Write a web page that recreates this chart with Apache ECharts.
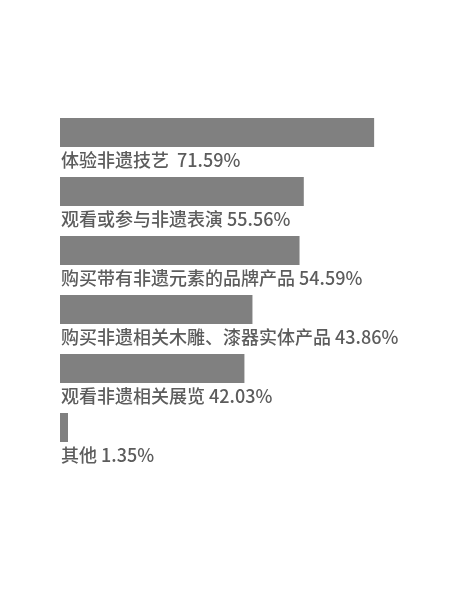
<!DOCTYPE html>
<html>
<head>
<meta charset="utf-8">
<script src="https://cdn.jsdelivr.net/npm/echarts@6/dist/echarts.min.js"></script>
<style>
  html, body { margin: 0; padding: 0; background: #fff; }
  #container { width: 450px; height: 591px; }
</style>
</head>
<body>
<div id="container"></div>
<script>
var categories = ['体验非遗技艺 ', '观看或参与非遗表演', '购买带有非遗元素的品牌产品',
    '购买非遗相关木雕、漆器实体产品', '观看非遗相关展览', '其他'];
var values = [71.59, 55.56, 54.59, 43.86, 42.03, 1.35];

var dom = document.getElementById('container');
var myChart = echarts.init(dom);

var option = {
    animation: false,
    grid: {
        left: 60,
        right: 10,
        top: 103,
        height: 354
    },
    xAxis: {
        type: 'value',
        min: 0,
        max: 86.6,
        show: false
    },
    yAxis: {
        type: 'category',
        data: categories,
        inverse: true,
        show: false
    },
    series: [{
        type: 'bar',
        data: values,
        barWidth: 29,
        barMinHeight: 8,
        itemStyle: {
            color: '#808080'
        },
        label: {
            show: true,
            position: [1, 33],
            color: '#5c5c5c',
            fontSize: 18,
            fontWeight: 500,
            fontFamily: 'Noto Sans CJK SC',
            formatter: function (p) {
                return p.name + ' ' + p.value.toFixed(2) + '%';
            }
        }
    }]
};

myChart.setOption(option);
</script>
</body>
</html>
